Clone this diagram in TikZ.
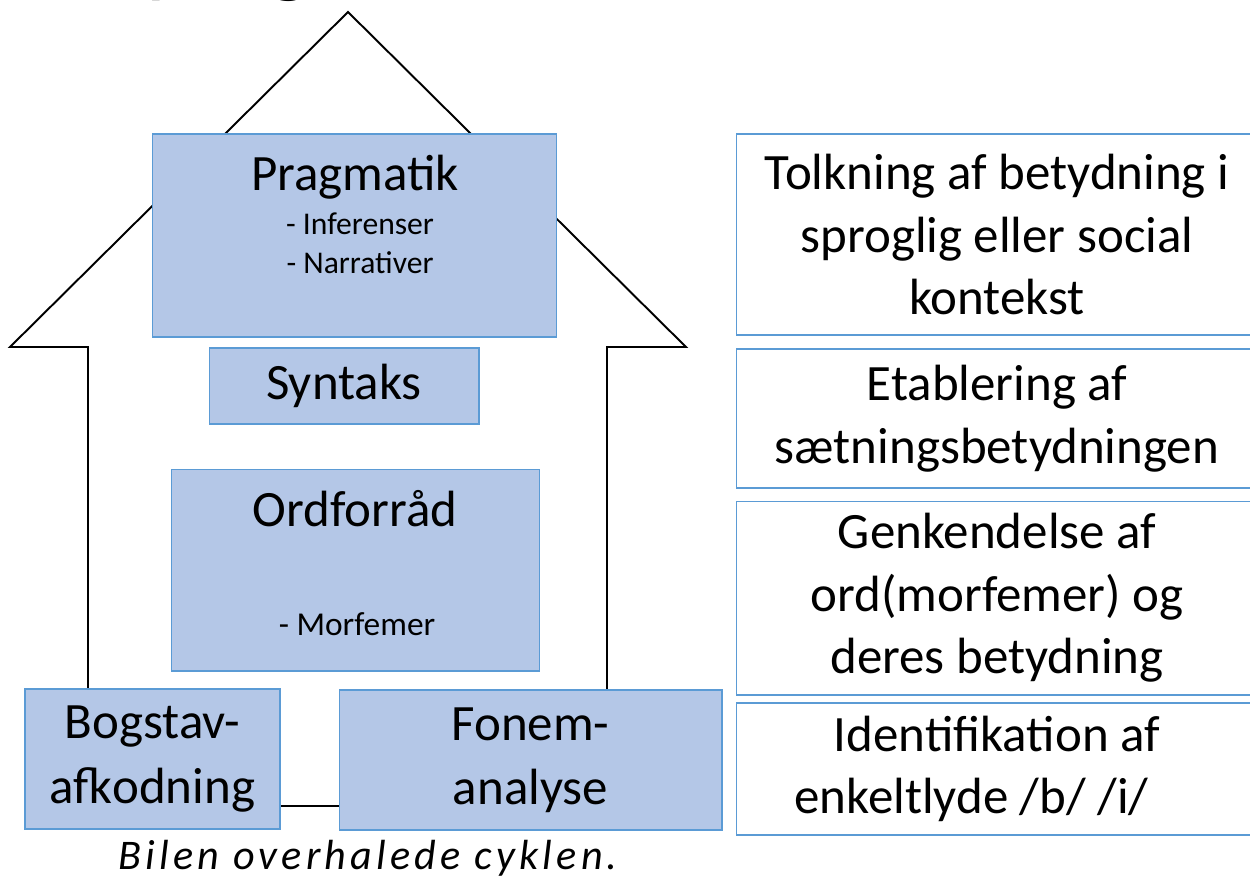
\documentclass[tikz,border=0pt]{standalone}
\usepackage{fontspec}
\setmainfont{Carlito}
\newfontfamily\spacedfont[LetterSpace=10]{Carlito}
\usetikzlibrary{calc}
\usetikzlibrary{backgrounds}

\definecolor{boxfill}{HTML}{B4C7E7}
\definecolor{boxline}{HTML}{5B9BD5}
\newcommand{\bigtxt}{\fontsize{29}{35.5}\selectfont}
\newcommand{\smalltxt}{\fontsize{18}{22}\selectfont}

\begin{document}
\begin{tikzpicture}[x=0.02cm, y=-0.02cm,
	level/.style={draw=boxline, fill=boxfill, line width=0.6pt, inner sep=0pt, align=center, font=\bigtxt},
	note/.style={draw=boxline, line width=0.6pt, inner sep=0pt, align=center, font=\bigtxt, minimum width=10.44cm},
	wall/.style={line width=1.1pt, line join=miter}]
	\useasboundingbox (0,0) rectangle (1250,879);

	\coordinate (apex)	at (348,12);
	\coordinate (eaveL)	at (10,347);
	\coordinate (eaveR)	at (686,347);
	\coordinate (wallL)	at (88,347);
	\coordinate (wallR)	at (607,347);
	\coordinate (floor)	at (310,806);

	% title, cut off by the page
	\node[anchor=base west, font=\fontsize{50}{52}\selectfont] (title) at (100,-13) {Sproget};

	% the house
	\node[level, minimum width=8.1cm, minimum height=4.06cm]	(prag)	at (354.5,235.5)	{};
	\node[font=\bigtxt]		(pragname)	at (355,177)	{Pragmatik};
	\node[font=\smalltxt]	(infer)		at (360,224)	{- Inferenser};
	\node[font=\smalltxt]	(narr)		at (360,263)	{- Narrativer};

	\node[level, minimum width=5.4cm, minimum height=1.52cm]	(syn)	at (344,386)	{Syntaks};

	\node[level, minimum width=7.38cm, minimum height=4.04cm]	(ord)	at (355.5,570)	{};
	\node[font=\bigtxt]		(ordname)	at (355,509)	{Ordforråd};
	\node[font=\fontsize{19}{22}\selectfont]	(morf)	at (357,624)	{- Morfemer};

	\node[level, minimum width=5.1cm, minimum height=2.8cm, font=\fontsize{29}{36.5}\selectfont]	(bog)	at (152.5,759)	{Bogstav-\\afkodning};
	\node[level, minimum width=7.66cm, minimum height=2.8cm, font=\fontsize{29}{36.5}\selectfont]	(fonem)	at (530.5,760)	{Fonem-\\analyse};

	\node[inner sep=0pt, font=\spacedfont\itshape\fontsize{24}{27}\selectfont]	(sentence)	at (368,858)	{Bilen overhalede cyklen.};

	% the explanations
	\node[note, minimum height=4.02cm]	(tolk)	at (997,234.5)	{Tolkning af betydning i\\sproglig eller social\\kontekst};
	\node[note, minimum height=2.78cm]	(etab)	at (997,418.5)	{Etablering af\\sætningsbetydningen};
	\node[note, minimum height=3.88cm]	(genk)	at (997,598)	{Genkendelse af\\ord(morfemer) og\\deres betydning};
	\node[note, minimum height=2.64cm]	(ident)	at (997,769)	{Identifikation af\\enkeltlyde /b/ /i/\rule{1em}{0pt}};

	\begin{scope}[on background layer]
		\draw[wall] (wallL |- bog.north) -- (wallL) -- (eaveL) -- (apex) -- (eaveR) -- (wallR) -- (wallR |- fonem.north);
		\draw[wall] (bog.east |- floor) -- (fonem.west |- floor);
	\end{scope}
\end{tikzpicture}
\end{document}
